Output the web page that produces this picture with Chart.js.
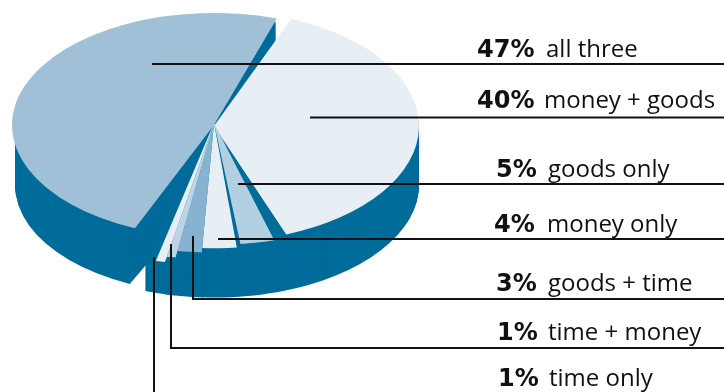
<!DOCTYPE html>
<html>
<head>
<meta charset="utf-8">
<title>Giving</title>
<style>
  html, body { margin: 0; padding: 0; background: #fff; }
  canvas { display: block; }
</style>
<script src="https://cdn.jsdelivr.net/npm/chart.js@4"></script>
</head>
<body>
<canvas id="myChart" width="724" height="392"></canvas>
<script>
const categories = ['all three', 'money + goods', 'goods only', 'money only', 'goods + time', 'time + money', 'time only']
const shares = [47, 40, 5, 4, 3, 1, 1]
const sliceColors = ['#9fc0d7', '#e7eff5', '#b3cfe2', '#e7eff5', '#88b3d0', '#bcd4e5', '#e7eff5']

// 3d look of the pie: faces
const centerX = 214
const centerY = 123
const reach = [202, 205, 222, 228, 236, 248, 258]
const tilt = [0.555, 0.565, 0.549, 0.549, 0.549, 0.549, 0.549]
const lift = [2, 3, 0, 0, 0, 0, 0]
const gapBefore = [10, 3, -1.1, -1, 0, 0, 0]
const gapAfter = [1, 6, 2.1, 0, 0, 0, 0]

// walls
const wallColor = '#006c9a'
const wallRadius = [199, 205, 205, 205, 205, 205, 205]
const wallTilt = 0.549
const wallLift = [2, 0, 0, 0, 0, 0, 0]
const wallDrop = [60, 62, 62, 62, 62, 62, 62]
const wallFrom = [1, 8, 1, 1, 1, 1, 36]
const wallBefore = [12, 3, 0, 0, 0, 0, 0]
const wallAfter = [1, -0.3, -0.3, -0.3, -0.3, -3, -6.6]

const foreshorten = 0.46
const turn = -2

// label rows: text x, value x, baseline, then the leader line
const valueX = [477, 477, 496, 494, 496, 497, 498]
const labelX = [546, 544, 548, 547, 548, 548, 549]
const baseline = [57, 108, 177, 232, 291, 340, 386]
const leaders = [
  [[152, 64], [724, 64]],
  [[310, 117.5], [724, 117.5]],
  [[238, 184], [724, 184]],
  [[218, 239], [724, 239]],
  [[193, 236], [193, 299], [724, 299]],
  [[171, 244], [171, 348], [724, 348]],
  [[154, 257], [154, 392]]
]

const rad = d => d * Math.PI / 180

// front of the pie is squeezed, back is stretched
function viewAngle(a) {
  const fromTop = a + Math.PI / 2
  return fromTop + foreshorten * Math.sin(fromTop) + rad(turn) - Math.PI / 2
}

function setArc(arc, start, end, radius) {
  arc.startAngle = start
  arc.endAngle = end
  arc.circumference = end - start
  arc.outerRadius = radius
}

const pie3d = {
  id: 'pie3d',
  afterDatasetsUpdate(chart) {
    chart.getDatasetMeta(0).data.forEach(arc => {
      arc.viewStart = viewAngle(arc.startAngle)
      arc.viewEnd = viewAngle(arc.endAngle)
    })
  },
  beforeDatasetDraw(chart) {
    const ctx = chart.ctx
    const arcs = chart.getDatasetMeta(0).data
    const place = (up, squash, drop) => {
      ctx.translate(centerX, centerY + up + drop)
      ctx.scale(1, squash)
      ctx.translate(-centerX, -centerY)
    }

    // side walls, swept downwards from each slice
    arcs.forEach((arc, i) => {
      const faceOptions = arc.options
      arc.options = { ...faceOptions, backgroundColor: wallColor, borderColor: wallColor }
      setArc(arc, arc.viewStart + rad(wallBefore[i]), arc.viewEnd - rad(wallAfter[i]), wallRadius[i])
      for (let d = wallDrop[i]; d >= wallFrom[i]; d--) {
        ctx.save()
        place(wallLift[i], wallTilt, d)
        arc.draw(ctx)
        ctx.restore()
      }
      arc.options = faceOptions
    })

    arcs.forEach((arc, i) => {
      setArc(arc, arc.viewStart + rad(gapBefore[i]), arc.viewEnd - rad(gapAfter[i]), reach[i])
      ctx.save()
      place(lift[i], tilt[i], 0)
      arc.draw(ctx)
      ctx.restore()
    })
    return false
  },
  afterDatasetsDraw(chart) {
    const ctx = chart.ctx
    ctx.save()
    ctx.strokeStyle = '#111'
    ctx.lineWidth = 2
    leaders.forEach(points => {
      ctx.beginPath()
      points.forEach(([x, y], k) => (k ? ctx.lineTo(x, y) : ctx.moveTo(x, y)))
      ctx.stroke()
    })

    ctx.fillStyle = '#111'
    ctx.textBaseline = 'alphabetic'
    categories.forEach((name, i) => {
      ctx.font = 'bold 24px "DejaVu Sans"'
      ctx.fillText(shares[i] + '%', valueX[i], baseline[i])
      ctx.font = '24px "Open Sans"'
      ctx.fillText(name, labelX[i], baseline[i])
    })
    ctx.restore()
  }
}

new Chart(document.getElementById('myChart'), {
  type: 'pie',
  data: {
    labels: categories,
    datasets: [{
      data: shares,
      backgroundColor: sliceColors,
      borderWidth: 0,
      radius: 205
    }]
  },
  options: {
    responsive: false,
    animation: false,
    rotation: 207,
    layout: { padding: { left: 9, right: 305, top: 0, bottom: 146 } },
    plugins: {
      legend: { display: false },
      tooltip: { enabled: false }
    }
  },
  plugins: [pie3d]
})
</script>
</body>
</html>
